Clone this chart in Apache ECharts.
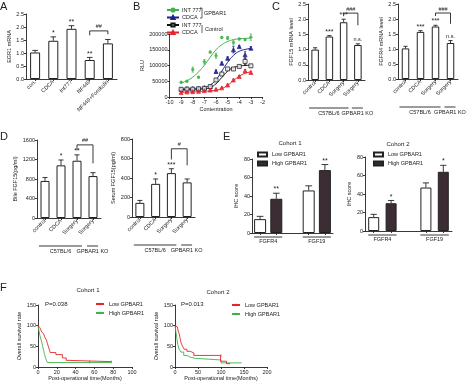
<!DOCTYPE html>
<html><head><meta charset="utf-8">
<script src="https://cdn.jsdelivr.net/npm/echarts@6/dist/echarts.min.js"></script>
<style>html,body{margin:0;padding:0;background:#fff}#c{width:474px;height:385px}</style>
</head><body><div id="c"></div><script>
// ---------------- Panel A
const aCats = ['con.','CDCA','Int777','NF449','NF449+Forskolin'];
const aVals = [1.02,1.47,1.93,0.73,1.37];
const aErrs = [0.08,0.15,0.12,0.10,0.15];
const aSig  = ['','*','**','**',''];
const aBracket = [3,4,1.85,1.68,1.72];
const aBracketLabel = '##';

// ---------------- Panel B
const bX = [-9,-8.5,-8,-7.5,-7,-6.5,-6,-5.5,-5,-4.5,-4,-3.5,-3];
const bIntG  = [46800,50000,87000,62800,111700,142500,131000,189000,187000,173000,184000,182000,190000];
const bIntGErr = [2000,2000,8000,2000,7000,3000,8000,3000,5000,8000,3000,3000,10000];
const bCdcaG = [24500,27000,27000,28000,30000,33000,81000,107000,123000,150000,160000,134000,155000];
const bCdcaGErr = [2000,2000,2000,2000,2000,3000,5000,4000,5000,10000,3000,10000,5000];
const bIntC  = [24500,25000,25000,26000,27500,33000,54000,73000,89000,89000,97000,113000,99000];
const bIntCErr = [2000,2000,2000,2000,2000,3000,4000,5000,4000,3000,3000,10000,4000];
const bCdcaC = [14000,16000,17000,18000,20000,22000,24500,29000,38000,54000,65000,83000,78000];
const bCdcaCErr = [2000,2000,2000,2000,2000,2000,2000,2000,3000,3000,3000,4000,4000];
const bFitIntG  = [44000,52000,63000,80000,101000,126000,150000,166000,176000,182000,185000,186000,187000];
const bFitCdcaG = [25000,25500,26000,27000,30000,38000,55000,82000,110000,132000,145000,151000,154000];
const bFitIntC  = [24000,24200,24500,25000,26000,30000,42000,62000,82000,93000,98000,100000,101000];
const bFitCdcaC = [15000,15500,16000,17000,18000,19500,21500,27000,37000,52000,66000,75000,80000];

// ---------------- Panel C
const cCats = ['control','CDCA','Surgery','Surgery'];
const cFgf15 = [1.0,1.43,1.9,1.15];
const cFgf15Err = [0.06,0.03,0.1,0.04];
const cFgf15Sig = ['','***','***','n.s.'];
const cFgfr4 = [1.02,1.57,1.75,1.2];
const cFgfr4Err = [0.07,0.04,0.04,0.08];
const cFgfr4Sig = ['','***','***','n.s.'];
const cBracket1 = [2,3,2.2,2.1,1.8];
const cBracket2 = [2,3,2.2,2.1,1.84];
const cBracketLabel = '###';
const mouseGroups = [[0,2],[3,3]];
const mouseGroupLabels = ['C57BL/6','GPBAR1 KO'];

// ---------------- Panel D
const dBile = [760,1080,1175,860];
const dBileErr = [70,110,120,70];
const dBileSig = ['','*','**',''];
const dBileBracket = [2,3,1500,1400,1120];
const dSerum = [145,340,450,355];
const dSerumErr = [25,50,45,35];
const dSerumSig = ['','*','***',''];
const dSerumBracket = [2,3,700,590,530];

// ---------------- Panel E
const eCats = ['FGFR4','FGF19'];
const eLow1 = [15,46], eLow1Err = [3,5];
const eHigh1 = [37,68], eHigh1Err = [6,6], eHigh1Sig = ['**','**'];
const eLow2 = [15,47], eLow2Err = [3,5];
const eHigh2 = [30,64], eHigh2Err = [3,7], eHigh2Sig = ['*','*'];

// ---------------- Panel F (Kaplan-Meier steps: [months, survival %])
const f1Low  = [[0,100],[2,95],[3,90],[4,85],[6,80],[7,73],[9,65],[10,57],[11,50],[12,42],[13,35],[19,30],[26,22],[30,16],[33,13],[78,13]];
const f1High = [[0,100],[1,88],[2,76],[3,68],[4,60],[5,50],[6,40],[7,30],[8,22],[9,16],[10,11],[78,11]];
const f1Censor = [[55,12],[78,12]];
const f2Low  = [[0,100],[3,97],[5,93],[7,87],[9,81],[11,70],[13,59],[16,51],[20,43],[26,38],[33,34],[41,28],[99,14],[112,8],[120,8]];
const f2High = [[0,100],[2,85],[4,70],[6,55],[9,43],[13,36],[19,28],[26,24],[33,21],[44,17],[100,10],[145,10]];
const f2Censor = [[100,28]];

// ================= building =================
const INK = '#222';
const FONT = '"Liberation Sans", Arial, sans-serif';
const RED = '#e5262f', GREEN = '#3fb34a', BLUE = '#1f1f8f', DARK = '#3b2d33';
const FS = 5.5;
const option = {backgroundColor:'#fff', animation:false, textStyle:{fontFamily:FONT,color:INK},
  grid:[], xAxis:[], yAxis:[], series:[], legend:[], graphic:[]};

function merge(a,b){ const o=Object.assign({},a); for(const k in b){ const v=b[k];
  if(v && typeof v==='object' && !Array.isArray(v) && a[k] && typeof a[k]==='object' && !Array.isArray(a[k])) o[k]=merge(a[k],v); else o[k]=v; } return o; }
function axisCommon(){ return {
  axisLine:{show:true,onZero:false,lineStyle:{color:INK,width:0.9}},
  axisTick:{show:true,length:2,lineStyle:{color:INK,width:0.9}},
  axisLabel:{fontSize:FS,color:INK,margin:2,fontFamily:FONT,formatter:v=>String(v)},
  splitLine:{show:false},
  nameTextStyle:{fontSize:FS,color:INK,fontFamily:FONT}}; }
function addPanel(rect, xa, ya){
  option.grid.push(Object.assign({show:false}, rect));
  const gi = option.grid.length-1;
  option.xAxis.push(merge(axisCommon(), Object.assign({gridIndex:gi}, xa)));
  option.yAxis.push(merge(axisCommon(), Object.assign({gridIndex:gi}, ya)));
  return {xi:option.xAxis.length-1, yi:option.yAxis.length-1};
}
function txt(text,x,y,size,align,va){ return {type:'text',x:x,y:y,style:{text:text,fontSize:size,fontFamily:FONT,fill:INK,align:align||'left',verticalAlign:va||'middle'}}; }

function errSeries(ax, pts, sigs, o){
  o = o||{};
  return {type:'custom', xAxisIndex:ax.xi, yAxisIndex:ax.yi, clip:false, silent:true, z:6,
    data:pts, renderItem(params, api){
      const x=api.value(0), v=api.value(1), e=api.value(2);
      const col=o.color||INK, cap=o.cap||2.5, lw=o.lw||0.9;
      const pT=api.coord([x,v+e]), p0=api.coord([x,o.both?v-e:v]);
      const kids=[{type:'line',shape:{x1:p0[0],y1:p0[1],x2:pT[0],y2:pT[1]},style:{stroke:col,lineWidth:lw}},
                  {type:'line',shape:{x1:pT[0]-cap,y1:pT[1],x2:pT[0]+cap,y2:pT[1]},style:{stroke:col,lineWidth:lw}}];
      if(o.both) kids.push({type:'line',shape:{x1:p0[0]-cap,y1:p0[1],x2:p0[0]+cap,y2:p0[1]},style:{stroke:col,lineWidth:lw}});
      const s = sigs ? sigs[params.dataIndex] : '';
      if(s){ const isStar = s.indexOf('*')>=0;
        kids.push({type:'text',style:{text:s,x:pT[0],y:pT[1]-(isStar?0.3:1.5),align:'center',verticalAlign:'bottom',
          fontSize:isStar?7:FS,fontFamily:FONT,fill:INK}}); }
      return {type:'group',children:kids};
    }};
}
function bracketSeries(ax, br, label){
  return {type:'custom', xAxisIndex:ax.xi, yAxisIndex:ax.yi, clip:false, silent:true, z:6, data:[br],
    renderItem(params, api){
      const f=api.value(0), t=api.value(1);
      const a=api.coord([f,api.value(2)]), b=api.coord([t,api.value(2)]);
      const aL=api.coord([f,api.value(3)]), bL=api.coord([t,api.value(4)]);
      return {type:'group',children:[
        {type:'polyline',shape:{points:[aL,a,b,bL]},style:{stroke:INK,lineWidth:0.9,fill:null}},
        {type:'text',style:{text:label,x:(a[0]+b[0])/2,y:a[1]-1,align:'center',verticalAlign:'bottom',fontSize:FS,fontFamily:FONT,fill:INK}}]};
    }};
}
function groupSeries(ax, groups, labels, o){
  return {type:'custom', xAxisIndex:ax.xi, yAxisIndex:ax.yi, clip:false, silent:true, z:6, data:groups,
    renderItem(params, api){
      const cs=params.coordSys; const yb=cs.y+cs.height+o.dy;
      const c0=api.coord([api.value(0),0]), c1=api.coord([api.value(1),0]);
      const x0=c0[0]-o.extL, x1=c1[0]+o.extR;
      return {type:'group',children:[
        {type:'line',shape:{x1:x0,y1:yb,x2:x1,y2:yb},style:{stroke:INK,lineWidth:0.9}},
        {type:'text',style:{text:labels[params.dataIndex],x:(x0+x1)/2,y:yb+o.tdy,align:'center',verticalAlign:'top',fontSize:FS,fontFamily:FONT,fill:INK}}]};
    }};
}
function simpleBar(ax, vals, bw){
  return {type:'bar', xAxisIndex:ax.xi, yAxisIndex:ax.yi, data:vals, barWidth:bw, silent:true,
    itemStyle:{color:'#fff',borderColor:INK,borderWidth:1}};
}
function barPanel(rect, cats, vals, errs, sigs, yopt, bw, bracket, bLabel, groups){
  const ax = addPanel(rect,
    {type:'category', data:cats, axisTick:{alignWithLabel:true}, axisLabel:{rotate:45, interval:0, fontSize:FS, margin:2}},
    merge({type:'value', nameLocation:'middle', nameRotate:90}, yopt));
  option.series.push(simpleBar(ax, vals, bw));
  option.series.push(errSeries(ax, vals.map((v,i)=>[i,v,errs[i]]), sigs, {cap:bw*0.28}));
  if(bracket) option.series.push(bracketSeries(ax, bracket, bLabel));
  if(groups) option.series.push(groupSeries(ax, groups, mouseGroupLabels, {dy:28, extL:6, extR:5, tdy:2.5}));
  return ax;
}
const f1 = v=>v.toFixed(1);

// ---- A
barPanel({left:26,top:14,width:91,height:65}, aCats, aVals, aErrs, aSig,
  {min:0,max:2.5,interval:0.5,name:'EGR1 mRNA',nameGap:14,axisLabel:{formatter:f1}}, 10, aBracket, aBracketLabel, null);

// ---- C
barPanel({left:308,top:4,width:57,height:76}, cCats, cFgf15, cFgf15Err, cFgf15Sig,
  {min:0,max:2.5,interval:0.5,name:'FGF15 mRNA level',nameGap:13,axisLabel:{formatter:f1}}, 7.5, cBracket1, cBracketLabel, mouseGroups);
barPanel({left:398,top:4,width:60,height:75}, cCats, cFgfr4, cFgfr4Err, cFgfr4Sig,
  {min:0,max:2.5,interval:0.5,name:'FGFR4 mRNA level',nameGap:13,axisLabel:{formatter:f1}}, 7.5, cBracket2, cBracketLabel, mouseGroups);

// ---- D
barPanel({left:37,top:140,width:64,height:78}, cCats, dBile, dBileErr, dBileSig,
  {min:0,max:1600,interval:400,name:'Bile FGF15(pg/ml)',nameGap:17}, 9, dBileBracket, '##', mouseGroups);
barPanel({left:132,top:139,width:63,height:78}, cCats, dSerum, dSerumErr, dSerumSig,
  {min:0,max:800,interval:200,name:'Serum FGF15(pg/ml)',nameGap:16}, 9, dSerumBracket, '#', mouseGroups);

// ---- B
(function(){
  const ax = addPanel({left:169.5,top:34,width:93,height:63},
    {type:'value',min:-10,max:-2,interval:1,name:'Contentration',nameLocation:'middle',nameGap:9},
    {type:'value',min:0,max:200000,interval:50000,name:'RLU',nameLocation:'middle',nameRotate:90,nameGap:23});
  const defs = [
    {name:'INT 777|G', fit:bFitIntG, pts:bIntG, err:bIntGErr, color:GREEN, symbol:'circle', size:2.5, fill:GREEN},
    {name:'CDCA|G', fit:bFitCdcaG, pts:bCdcaG, err:bCdcaGErr, color:BLUE, symbol:'triangle', size:4, fill:BLUE},
    {name:'INT 777|C', fit:bFitIntC, pts:bIntC, err:bIntCErr, color:'#111', symbol:'rect', size:4, fill:'#fff'},
    {name:'CDCA|C', fit:bFitCdcaC, pts:bCdcaC, err:bCdcaCErr, color:RED, symbol:'triangle', size:4, fill:RED}];
  defs.forEach(d=>{
    option.series.push({type:'line', name:d.name, xAxisIndex:ax.xi, yAxisIndex:ax.yi, smooth:0.5,
      data:bX.map((x,i)=>[x,d.fit[i]]), symbol:d.symbol, symbolSize:d.size, showSymbol:false,
      lineStyle:{color:d.color,width:1}, itemStyle:{color:d.fill,borderColor:d.color,borderWidth:0.9}, silent:true, z:3});
    option.series.push(errSeries(ax, bX.map((x,i)=>[x,d.pts[i],d.err[i]]), null, {color:d.color,cap:1.2,both:true,lw:0.7}));
    option.series.push({type:'scatter', xAxisIndex:ax.xi, yAxisIndex:ax.yi, data:bX.map((x,i)=>[x,d.pts[i]]),
      symbol:d.symbol, symbolSize:d.size, itemStyle:{color:d.fill,borderColor:d.color,borderWidth:0.9}, silent:true, z:7});
  });
  option.legend.push({data:defs.map(d=>d.name), orient:'vertical', left:166, top:7, itemWidth:12, itemHeight:4, itemGap:1.5,
    selectedMode:false, textStyle:{fontSize:FS,color:INK,fontFamily:FONT,padding:[0,0,0,-2]}, formatter:n=>n.split('|')[0], padding:0});
})();

// ---- E
function ePanel(rect, low, lowErr, high, highErr, highSig, bw, legendPos, nameGap){
  const slots = ['FGFR4 low','FGFR4 high','','FGF19 low','FGF19 high'];
  const ax = addPanel(rect,
    {type:'category', data:slots, axisTick:{alignWithLabel:true, interval:(i)=>i!==2}, axisLabel:{show:false}},
    {type:'value',min:0,max:80,interval:20,name:'IHC score',nameLocation:'middle',nameRotate:90,nameGap:nameGap});
  const lowData = [low[0],'-','-',low[1],'-'];
  const highData = ['-',high[0],'-','-',high[1]];
  option.series.push({type:'bar', name:'Low GPBAR1', xAxisIndex:ax.xi, yAxisIndex:ax.yi, data:lowData, barWidth:bw, barGap:'-100%',
    silent:true, itemStyle:{color:'#fff',borderColor:INK,borderWidth:1}});
  option.series.push({type:'bar', name:'High GPBAR1', xAxisIndex:ax.xi, yAxisIndex:ax.yi, data:highData, barWidth:bw, barGap:'-100%',
    silent:true, itemStyle:{color:DARK,borderColor:INK,borderWidth:1}});
  option.series.push(errSeries(ax, [[0,low[0],lowErr[0]],[3,low[1],lowErr[1]]], null, {cap:bw*0.28}));
  option.series.push(errSeries(ax, [[1,high[0],highErr[0]],[4,high[1],highErr[1]]], highSig, {cap:bw*0.28}));
  option.series.push(groupSeries(ax, [[0,1],[3,4]], eCats, {dy:4, extL:bw/2, extR:bw/2, tdy:1.5}));
  option.legend.push({data:['Low GPBAR1','High GPBAR1'], orient:'vertical', left:legendPos[0], top:legendPos[1], itemWidth:9, itemHeight:4,
    itemGap:3, selectedMode:false, icon:'rect', padding:0, textStyle:{fontSize:FS,color:INK,fontFamily:FONT}});
}
ePanel({left:252,top:159,width:81,height:74}, eLow1, eLow1Err, eHigh1, eHigh1Err, eHigh1Sig, 12, [257,151.5], 11);
ePanel({left:365,top:157,width:87,height:74}, eLow2, eLow2Err, eHigh2, eHigh2Err, eHigh2Sig, 11, [373,151.5], 9);

// ---- F
function fPanel(rect, xmax, xint, low, high, censor, tag, legendPos, nameGap){
  const ax = addPanel(rect,
    {type:'value',min:0,max:xmax,interval:xint,name:'Post-operational time(Months)',nameLocation:'middle',nameGap:8},
    {type:'value',min:0,max:150,interval:50,name:'Overall survival rate',nameLocation:'middle',nameRotate:90,nameGap:nameGap});
  option.series.push({type:'line', name:'Low GPBAR1|'+tag, xAxisIndex:ax.xi, yAxisIndex:ax.yi, step:'end', data:low, symbol:'none',
    lineStyle:{color:RED,width:0.9}, itemStyle:{color:RED}, silent:true, z:4});
  option.series.push({type:'line', name:'High GPBAR1|'+tag, xAxisIndex:ax.xi, yAxisIndex:ax.yi, step:'end', data:high, symbol:'none',
    lineStyle:{color:GREEN,width:0.9}, itemStyle:{color:GREEN}, silent:true, z:3});
  option.series.push({type:'scatter', xAxisIndex:ax.xi, yAxisIndex:ax.yi, data:censor, symbol:'rect', symbolSize:[0.7,3],
    itemStyle:{color:RED}, silent:true, z:5});
  option.legend.push({data:['Low GPBAR1|'+tag,'High GPBAR1|'+tag], orient:'vertical', left:legendPos[0], top:legendPos[1],
    itemWidth:8, itemHeight:3, itemGap:3, selectedMode:false, padding:0, formatter:n=>n.split('|')[0],
    textStyle:{fontSize:FS,color:INK,fontFamily:FONT}});
}
fPanel({left:38,top:305,width:94,height:62}, 100, 20, f1Low, f1High, f1Censor, '1', [95,301], 15);
fPanel({left:175,top:305,width:92,height:62}, 200, 50, f2Low, f2High, f2Censor, '2', [231,302], 14);

// ---- text annotations
option.graphic = [
  txt('A',0,1,11,'left','top'), txt('B',133,1,11,'left','top'), txt('C',272,1,11,'left','top'),
  txt('D',0,131,11,'left','top'), txt('E',223,131,11,'left','top'), txt('F',0,282,11,'left','top'),
  txt('Cohort 1',290,143,6,'center'), txt('Cohort 2',398,144,6,'center'),
  txt('Cohort 1',88,290,6,'center'), txt('Cohort 2',218,292,6,'center'),
  txt('P=0.038',45,304,6,'left'), txt('P=0.013',181,304,6,'left'),
  {type:'polyline',shape:{points:[[200,8],[202,8],[202,18],[200,18]]},style:{stroke:INK,lineWidth:0.7,fill:null}},
  txt('GPBAR1',204,13,FS,'left'),
  {type:'line',shape:{x1:202,y1:25,x2:202,y2:33},style:{stroke:INK,lineWidth:0.7}},
  txt('Control',205,29,FS,'left')
];

const chart = echarts.init(document.getElementById('c'), null, {renderer:'canvas'});
chart.setOption(option);
</script></body></html>
